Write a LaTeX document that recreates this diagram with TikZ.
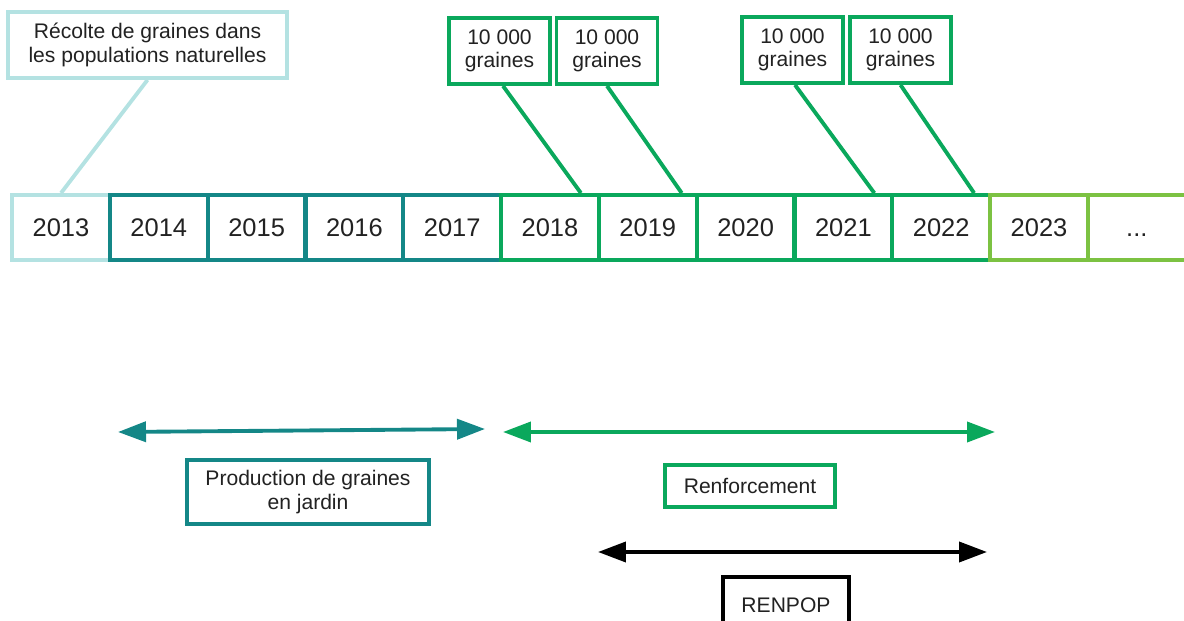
\documentclass[tikz,border=0pt]{standalone}
\usepackage{fontspec}
\setmainfont{Liberation Sans}
\usetikzlibrary{arrows.meta,positioning}

\definecolor{paleteal}{HTML}{B4E2E2}
\definecolor{darkteal}{HTML}{148787}
\definecolor{midgreen}{HTML}{0AA85C}
\definecolor{lightgreen}{HTML}{7CC242}
\definecolor{ink}{HTML}{222222}

\tikzset{
  year/.style={draw, line width=2.2pt, minimum width=1.96cm, minimum height=1.3cm,
    inner sep=0pt, text=ink, font=\fontsize{14.5}{16}\selectfont},
  tag/.style={draw, line width=2.2pt, fill=white, align=center, inner sep=0pt,
    text=ink, font=\fontsize{12}{13.2}\selectfont},
  link/.style={line width=2.2pt},
  span/.style={line width=2.2pt,
    {Triangle[length=0.56cm,width=0.4cm]}-{Triangle[length=0.56cm,width=0.4cm]}}
}

\begin{document}
\begin{tikzpicture}[x=0.02cm,y=-0.02cm]

\useasboundingbox (0,0) rectangle (1184,621);

% the years
\foreach \yr/\col [count=\i from 0] in {2013/paleteal,2014/darkteal,2015/darkteal,
    2016/darkteal,2017/darkteal,2018/midgreen,2019/midgreen,2020/midgreen,
    2021/midgreen,2022/midgreen,2023/lightgreen}
  \node [year,draw=\col] (y\yr) at (61+97.8*\i,227.5) {\yr};
\node [year,draw=lightgreen] (ymore) at (1136.8,227.5) {\vphantom{0}...};

% callouts above
\node [tag,draw=paleteal,minimum width=5.58cm,minimum height=1.32cm] (rec) at (147.5,45)
  {Récolte de graines dans\\les populations naturelles};
\draw [link,draw=paleteal] (rec.south) -- (y2013.north);

\node [tag,draw=midgreen,minimum width=2.02cm,minimum height=1.32cm] (s1) at (499.5,51) {10 000\\graines};
\node [tag,draw=midgreen,minimum width=2.02cm,minimum height=1.32cm] (s2) at (607,51) {10 000\\graines};
\node [tag,draw=midgreen,minimum width=2.02cm,minimum height=1.32cm] (s3) at (792.5,50) {10 000\\graines};
\node [tag,draw=midgreen,minimum width=2.02cm,minimum height=1.32cm] (s4) at (900.5,50) {10 000\\graines};

\draw [link,draw=midgreen] ([xshift=0.07cm]s1.south) -- ([xshift=-0.4cm]y2018.north east);
\draw [link,draw=midgreen] (s2.south) -- ([xshift=-0.34cm]y2019.north east);
\draw [link,draw=midgreen] ([xshift=0.05cm]s3.south) -- ([xshift=-0.4cm]y2021.north east);
\draw [link,draw=midgreen] (s4.south) -- ([xshift=-0.36cm]y2022.north east);

% periods below
\coordinate (pa) at (118,432);
\coordinate (pb) at (485,429);
\coordinate (ra) at (503,432);
\coordinate (rb) at (995,432);
\coordinate (na) at (598,552);
\coordinate (nb) at (987,552);

\draw [span,draw=darkteal,fill=darkteal] (pa) -- (pb);
\draw [span,draw=midgreen,fill=midgreen] (ra) -- (rb);
\draw [span,draw=black,fill=black] (na) -- (nb);

\node [tag,draw=darkteal,minimum width=4.84cm,minimum height=1.28cm] (prod) at (308,492)
  {Production de graines\\en jardin};
\node [tag,draw=midgreen,minimum width=3.4cm,minimum height=0.84cm] (renf) at (750,486) {Renforcement};
\node [tag,draw=black,minimum width=2.52cm,minimum height=1.12cm] (renpop) at (786,605) {RENPOP};

\end{tikzpicture}
\end{document}
